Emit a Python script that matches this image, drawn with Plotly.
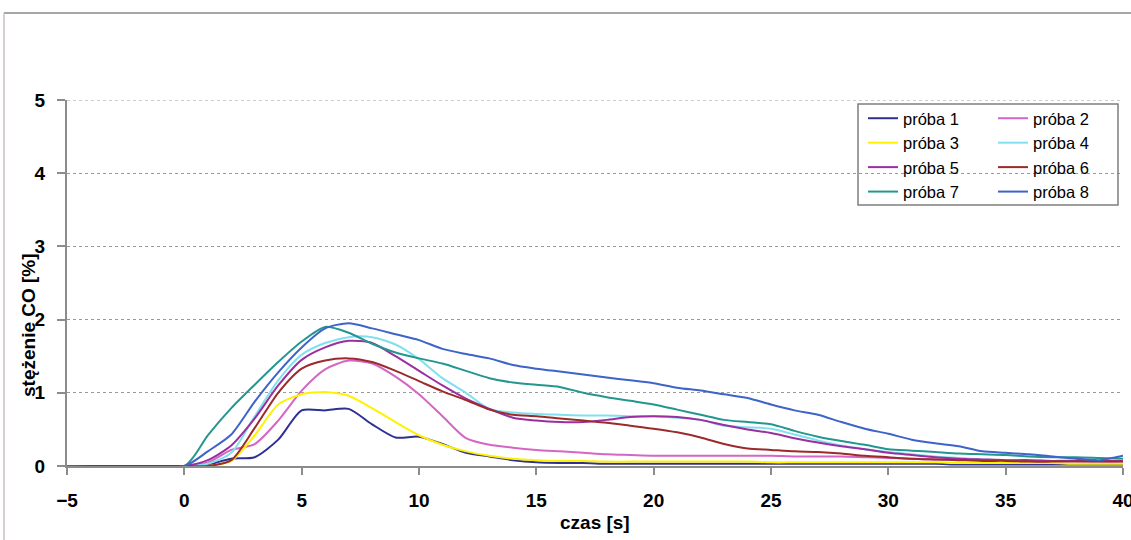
import plotly.graph_objects as go

# time axis [s]
czas = [-5] + list(range(0, 41))

proba_1 = [0, 0, 0.02, 0.10, 0.12, 0.36, 0.76, 0.76, 0.78, 0.57, 0.39, 0.40, 0.30, 0.18, 0.13, 0.08,
           0.05, 0.04, 0.04, 0.03, 0.03, 0.03, 0.03, 0.03, 0.03, 0.03, 0.03, 0.03, 0.03, 0.03, 0.03,
           0.03, 0.03, 0.03, 0.02, 0.02, 0.02, 0.02, 0.02, 0.02, 0.02, 0.02]
proba_2 = [0, 0, 0.05, 0.22, 0.30, 0.62, 1.03, 1.32, 1.44, 1.40, 1.22, 0.98, 0.68, 0.38, 0.29, 0.25,
           0.22, 0.20, 0.18, 0.16, 0.15, 0.14, 0.14, 0.14, 0.14, 0.14, 0.14, 0.13, 0.13, 0.13, 0.12,
           0.11, 0.10, 0.09, 0.09, 0.08, 0.08, 0.07, 0.07, 0.07, 0.06, 0.06]
proba_3 = [0, 0, 0, 0.07, 0.42, 0.84, 0.98, 1.01, 0.96, 0.79, 0.60, 0.42, 0.29, 0.20, 0.14, 0.10,
           0.08, 0.07, 0.07, 0.06, 0.06, 0.06, 0.06, 0.06, 0.06, 0.06, 0.05, 0.05, 0.05, 0.05, 0.05,
           0.05, 0.05, 0.05, 0.04, 0.04, 0.04, 0.04, 0.04, 0.03, 0.03, 0.03]
proba_4 = [0, 0, 0.03, 0.18, 0.68, 1.17, 1.52, 1.68, 1.76, 1.76, 1.66, 1.46, 1.20, 1.00, 0.78, 0.73,
           0.71, 0.70, 0.69, 0.69, 0.68, 0.68, 0.66, 0.63, 0.55, 0.53, 0.51, 0.43, 0.35, 0.28, 0.23,
           0.19, 0.16, 0.13, 0.11, 0.09, 0.08, 0.08, 0.07, 0.07, 0.07, 0.07]
proba_5 = [0, 0, 0.08, 0.28, 0.65, 1.10, 1.45, 1.62, 1.71, 1.68, 1.50, 1.30, 1.10, 0.92, 0.78, 0.66,
           0.62, 0.60, 0.60, 0.63, 0.67, 0.68, 0.67, 0.63, 0.56, 0.50, 0.45, 0.38, 0.32, 0.27, 0.23,
           0.18, 0.15, 0.12, 0.10, 0.09, 0.08, 0.08, 0.07, 0.07, 0.07, 0.07]
proba_6 = [0, 0, 0, 0.08, 0.52, 1.00, 1.33, 1.44, 1.47, 1.42, 1.30, 1.16, 1.02, 0.90, 0.77, 0.70,
           0.68, 0.65, 0.62, 0.59, 0.55, 0.51, 0.46, 0.39, 0.30, 0.24, 0.22, 0.20, 0.19, 0.17, 0.14,
           0.12, 0.10, 0.09, 0.08, 0.07, 0.07, 0.06, 0.06, 0.06, 0.06, 0.06]
proba_7 = [0, 0, 0.42, 0.79, 1.11, 1.42, 1.70, 1.90, 1.82, 1.67, 1.55, 1.47, 1.40, 1.30, 1.20, 1.14,
           1.11, 1.08, 1.00, 0.94, 0.89, 0.84, 0.77, 0.70, 0.63, 0.60, 0.57, 0.48, 0.40, 0.34, 0.29,
           0.23, 0.21, 0.19, 0.17, 0.16, 0.15, 0.13, 0.12, 0.12, 0.11, 0.10]
proba_8 = [0, 0, 0.20, 0.43, 0.88, 1.28, 1.62, 1.88, 1.95, 1.88, 1.80, 1.72, 1.60, 1.53, 1.47, 1.38,
           1.33, 1.29, 1.25, 1.21, 1.17, 1.13, 1.07, 1.03, 0.98, 0.93, 0.84, 0.76, 0.70, 0.60, 0.51,
           0.44, 0.36, 0.31, 0.27, 0.20, 0.18, 0.16, 0.13, 0.10, 0.08, 0.14]

series = [
    ("próba 1", proba_1, "#2E3192", "legend"),
    ("próba 2", proba_2, "#D466C4", "legend2"),
    ("próba 3", proba_3, "#FFF200", "legend"),
    ("próba 4", proba_4, "#80E0EE", "legend2"),
    ("próba 5", proba_5, "#9A2FA0", "legend"),
    ("próba 6", proba_6, "#9B2B2B", "legend2"),
    ("próba 7", proba_7, "#23968F", "legend"),
    ("próba 8", proba_8, "#3E63C9", "legend2"),
]

fig = go.Figure()
for name, vals, col, lg in series:
    fig.add_trace(go.Scatter(
        x=czas, y=vals, name=name, mode="lines", legend=lg,
        line=dict(color=col, width=2, shape="spline", smoothing=0.7),
    ))

W, H = 1131, 540
L, R, T, B = 67, 8, 100, 74
pw, ph = W - L - R, H - T - B


def px_x(p):
    return (p - L) / pw


def px_y(p):
    return (H - B - p) / ph


tick_font = dict(family="Liberation Sans, Arial, sans-serif", size=19, color="black", weight="bold")
leg_font = dict(family="Liberation Sans, Arial, sans-serif", size=16.5, color="black")

fig.update_layout(
    width=W, height=H,
    margin=dict(l=L, r=R, t=T, b=B),
    paper_bgcolor="white", plot_bgcolor="white",
    xaxis=dict(range=[-5, 40], dtick=5, tick0=-5, showgrid=False, zeroline=False,
               showline=True, linecolor="#8c8c8c", linewidth=2,
               ticks="outside", ticklen=7, tickcolor="#8c8c8c", tickwidth=1.5,
               tickfont=tick_font, ticklabelstandoff=9, ticklabeloverflow="allow",
               automargin=False),
    yaxis=dict(range=[0, 5], dtick=1, showgrid=True, gridcolor="#9a9a9a", griddash="dot",
               gridwidth=1, zeroline=False, showline=True, linecolor="#8c8c8c", linewidth=2,
               ticks="outside", ticklen=8, tickcolor="#8c8c8c", tickwidth=1.5,
               tickfont=tick_font, ticklabelstandoff=8, automargin=False),
    legend=dict(x=px_x(863), y=px_y(101), xanchor="left", yanchor="top",
                bgcolor="rgba(0,0,0,0)", borderwidth=0, font=leg_font,
                orientation="v", tracegroupgap=0),
    legend2=dict(x=px_x(993), y=px_y(101), xanchor="left", yanchor="top",
                 bgcolor="rgba(0,0,0,0)", borderwidth=0, font=leg_font,
                 orientation="v", tracegroupgap=0),
    showlegend=True,
    annotations=[
        dict(text="stężenie CO [%]", xref="paper", yref="paper", x=px_x(28), y=px_y(325),
             textangle=-90, showarrow=False, xanchor="center", yanchor="middle",
             font=tick_font),
        dict(text="czas [s]", xref="paper", yref="paper", x=px_x(595), y=px_y(522),
             showarrow=False, xanchor="center", yanchor="middle", font=tick_font),
    ],
    shapes=[
        # top gridline at 5 (plotly omits the gridline at the range edge)
        dict(type="line", xref="paper", yref="y", x0=0, x1=1, y0=5, y1=5,
             line=dict(color="#9a9a9a", width=1, dash="dot"), layer="below"),
        dict(type="rect", xref="paper", yref="paper", x0=px_x(858), x1=px_x(1118),
             y0=px_y(205), y1=px_y(104), line=dict(color="#7f7f7f", width=1.5), layer="above"),
        dict(type="line", xref="paper", yref="paper", x0=px_x(4), x1=px_x(1140),
             y0=px_y(13), y1=px_y(13), line=dict(color="#a6a6a6", width=2)),
        dict(type="line", xref="paper", yref="paper", x0=px_x(4), x1=px_x(4),
             y0=px_y(13), y1=px_y(550), line=dict(color="#c9c0c0", width=1.5)),
    ],
)

fig.write_html("out.html")
